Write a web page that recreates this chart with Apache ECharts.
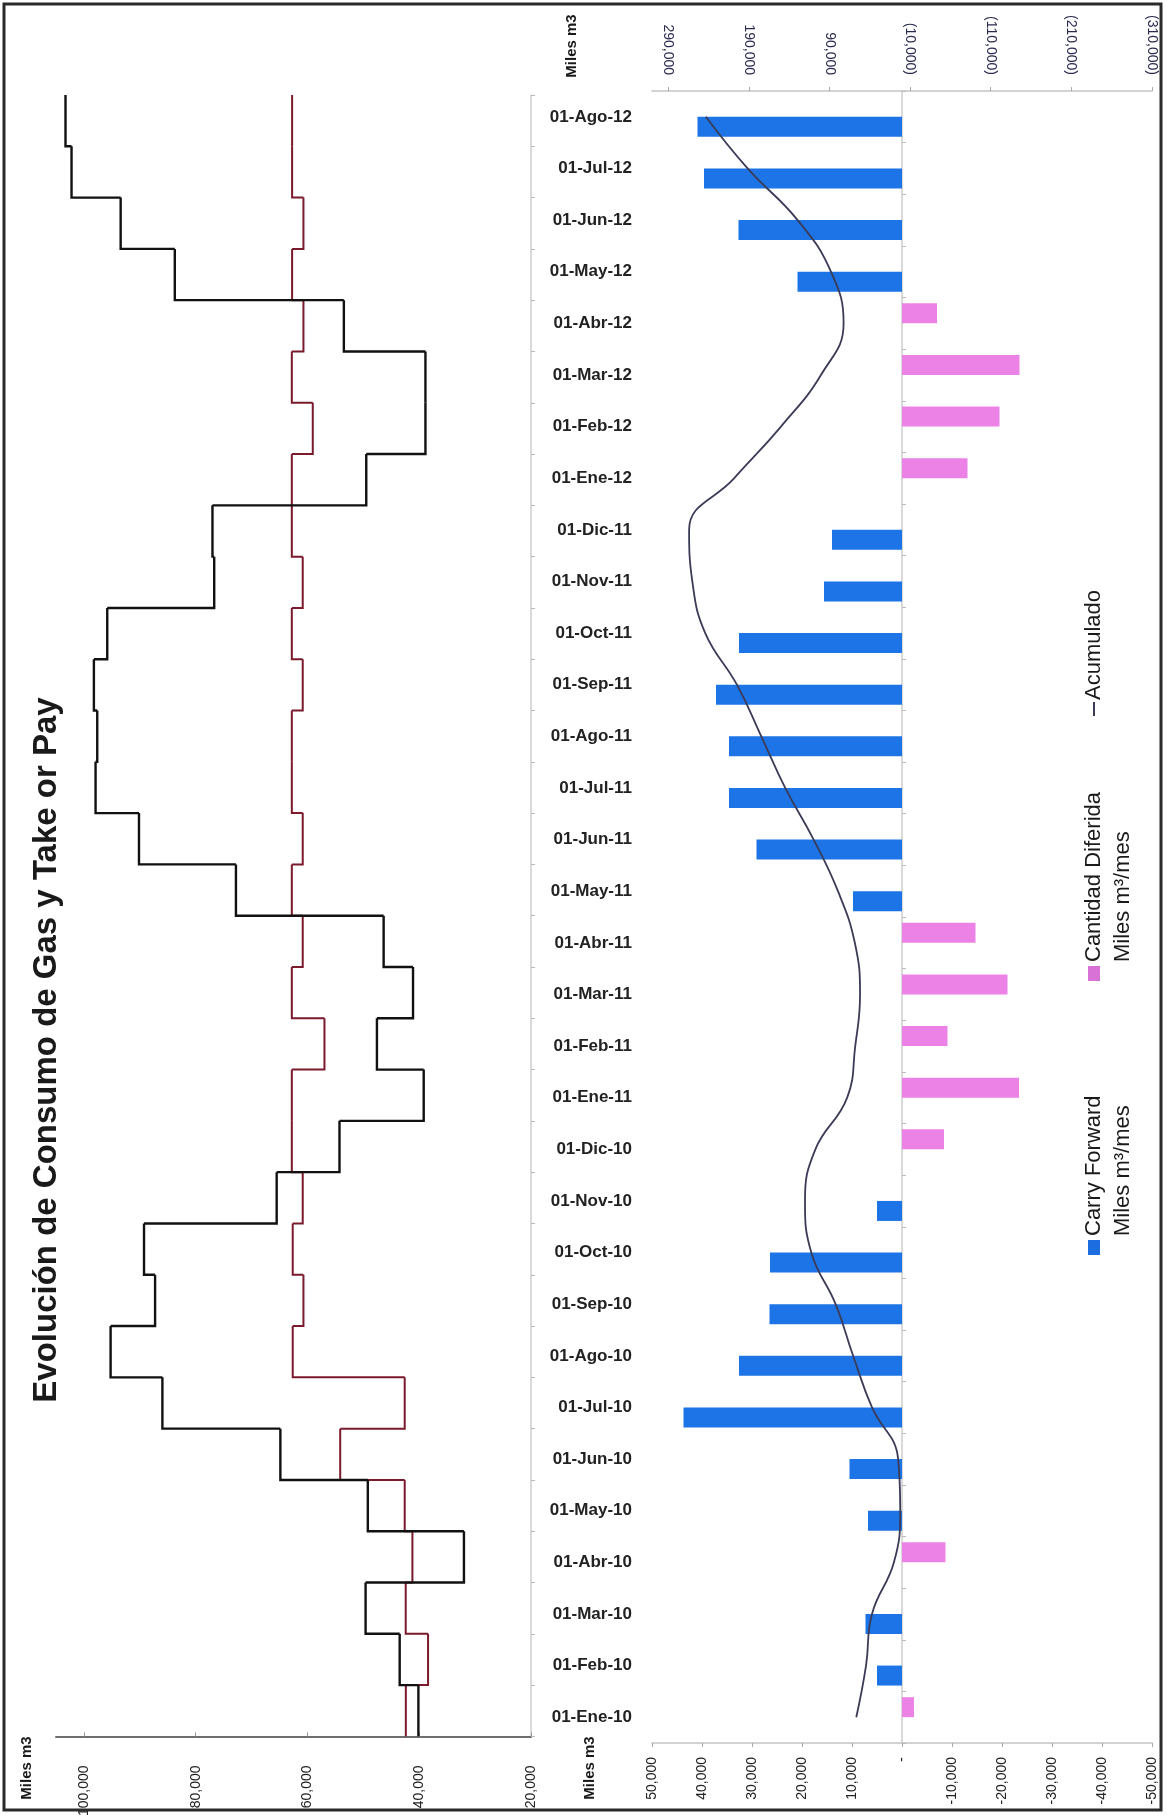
<!DOCTYPE html>
<html>
<head>
<meta charset="utf-8">
<title>Evolución de Consumo de Gas y Take or Pay</title>
<script src="https://cdn.jsdelivr.net/npm/echarts@6/dist/echarts.min.js"></script>
<style>
  html, body { margin: 0; padding: 0; background: #ffffff; }
  #chart { width: 1167px; height: 1819px; }
</style>
</head>
<body>
<div id="chart"></div>
<script>
// Months, oldest first (drawn bottom to top)
const months = ['01-Ene-10','01-Feb-10','01-Mar-10','01-Abr-10','01-May-10','01-Jun-10','01-Jul-10','01-Ago-10',
  '01-Sep-10','01-Oct-10','01-Nov-10','01-Dic-10','01-Ene-11','01-Feb-11','01-Mar-11','01-Abr-11','01-May-11',
  '01-Jun-11','01-Jul-11','01-Ago-11','01-Sep-11','01-Oct-11','01-Nov-11','01-Dic-11','01-Ene-12','01-Feb-12',
  '01-Mar-12','01-Abr-12','01-May-12','01-Jun-12','01-Jul-12','01-Ago-12'];

// Monthly gas consumption (Miles m3) - black step line
const consumo = [40150,43500,49600,32000,49200,64850,85960,95230,87270,89250,65510,54270,39200,47570,41110,46370,
  72800,90150,97920,97620,98220,95830,76690,77000,49480,38890,38890,53490,83740,93430,102220,103300];

// Monthly take-or-pay contracted quantity (Miles m3) - dark red step line
const contrato = [42400,38420,42420,41220,42600,54140,42600,62640,60720,62640,60850,62800,62800,56960,62800,60850,
  62800,60850,62800,62800,60850,62800,60850,62800,62800,59050,62800,60720,62750,60720,62750,62750];

// Carry Forward (Miles m3/mes)
const carryForward = [null,5000,7300,null,6800,10500,43700,32600,26500,26400,5000,null,null,null,null,null,
  9800,29100,34600,34600,37200,32600,15600,14000,null,null,null,null,20900,32700,39600,40900];

// Cantidad Diferida (Miles m3/mes)
const diferida = [-2400,null,null,-8700,null,null,null,null,null,null,null,-8400,-23400,-9100,-21100,-14700,
  null,null,null,null,null,null,null,null,-13100,-19500,-23500,-7000,null,null,null,null];

// Acumulado (Miles m3)
const acumulado = [56700,44600,37200,10000,2200,4800,37200,60600,82300,112500,120300,107400,68000,58000,52000,58500,
  79400,109600,144800,174500,204700,244000,260000,264000,208000,150100,100500,72400,88100,129500,191500,243200];

// Tick values
const consumoTicks = [20000, 40000, 60000, 80000, 100000];
const acumuladoTicks = [290000, 190000, 90000, -10000, -110000, -210000, -310000];

const NARROW = "'Liberation Sans Narrow','Arial Narrow','Liberation Sans',Arial,sans-serif";
const WIDE = "'Liberation Sans',Arial,sans-serif";

const fmt = v => Math.abs(v).toLocaleString('en-US');

// Step line: each month is a vertical segment across its whole band,
// joined to the previous month at the band's lower edge.
function stepItem(color, width) {
  return function (params, api) {
    const cat = api.value(0);
    const cur = api.coord([api.value(1), cat]);
    const band = api.size([0, 1])[1];
    const top = cur[1] - band / 2, bottom = cur[1] + band / 2;
    const pts = [[cur[0], top], [cur[0], bottom]];
    const prev = api.value(2);
    if (!isNaN(prev)) {
      const p = api.coord([prev, cat]);
      pts.push([p[0], bottom]);
    }
    return {
      type: 'polyline',
      shape: { points: pts },
      style: { stroke: color, lineWidth: width, fill: null, lineJoin: 'miter' }
    };
  };
}
const stepData = arr => arr.map((v, i) => [i, v, i > 0 ? arr[i - 1] : NaN]);

function vText(x, y, text, size, weight, align, family) {
  return {
    type: 'text', x: x, y: y, rotation: Math.PI / 2,
    style: {
      text: text, fontSize: size, fontWeight: weight || 'normal', fontFamily: family || NARROW,
      fill: '#1a1a1a', align: align || 'center', verticalAlign: 'middle'
    }
  };
}

const chart = echarts.init(document.getElementById('chart'), null, { renderer: 'canvas' });

chart.setOption({
  animation: false,
  backgroundColor: '#ffffff',
  textStyle: { fontFamily: NARROW },
  grid: [
    { left: 56, right: 636, top: 95, bottom: 76 },
    { left: 652, right: 15, top: 91, bottom: 76 }
  ],
  xAxis: [
    { // consumption scale (left panel)
      gridIndex: 0, type: 'value', inverse: true, min: 20000, max: 105000, position: 'bottom',
      axisLine: { show: true, lineStyle: { color: '#6e6e6e', width: 2 } },
      axisTick: { show: true, inside: true, length: 4, customValues: consumoTicks, lineStyle: { color: '#999' } },
      splitLine: { show: false },
      axisLabel: {
        rotate: 90, margin: 29, fontSize: 14, color: '#222', fontFamily: NARROW,
        customValues: consumoTicks, formatter: v => fmt(v)
      }
    },
    { // monthly bars scale
      gridIndex: 1, type: 'value', inverse: true, min: -50000, max: 50000, interval: 10000, position: 'bottom',
      axisLine: { show: true, onZero: false, lineStyle: { color: '#c4c4c4', width: 1.5 } },
      axisTick: { show: true, length: 4, lineStyle: { color: '#aaa' } },
      splitLine: { show: false },
      axisLabel: {
        rotate: 90, margin: 14, fontSize: 14, color: '#222', fontFamily: NARROW,
        formatter: v => v === 0 ? '-' : (v < 0 ? '-' : '') + fmt(v)
      }
    },
    { // accumulated scale
      gridIndex: 1, type: 'value', inverse: true, min: -310000, max: 310000, position: 'top',
      axisLine: { show: true, onZero: false, lineStyle: { color: '#c4c4c4', width: 1.5 } },
      axisTick: { show: true, length: 4, customValues: acumuladoTicks, lineStyle: { color: '#aaa' } },
      splitLine: { show: false },
      axisLabel: {
        rotate: 90, margin: 16, fontSize: 14, color: '#2a2a50', fontFamily: NARROW,
        customValues: acumuladoTicks, formatter: v => v < 0 ? '(' + fmt(v) + ')' : fmt(v)
      }
    }
  ],
  yAxis: [
    {
      gridIndex: 0, type: 'category', data: months, position: 'right',
      axisLine: { show: true, onZero: false, lineStyle: { color: '#cfcfcf', width: 1.5 } },
      axisTick: { show: true, length: 4, lineStyle: { color: '#bbb' } },
      axisLabel: { show: false }
    },
    {
      gridIndex: 1, type: 'category', data: months, position: 'left',
      axisLine: { show: false, onZero: false },
      axisTick: { show: false },
      axisLabel: { margin: 20, fontSize: 17, fontWeight: 'bold', color: '#222', fontFamily: WIDE }
    },
    { // zero line of the monthly bars
      gridIndex: 1, type: 'category', data: months,
      axisLine: { show: true, onZero: true, lineStyle: { color: '#cccccc', width: 1.5 } },
      axisTick: { show: true, length: 4, lineStyle: { color: '#bbb' } },
      axisLabel: { show: false }
    }
  ],
  series: [
    {
      name: 'Contrato', type: 'custom', xAxisIndex: 0, yAxisIndex: 0,
      renderItem: stepItem('#7a1a2c', 2), encode: { x: 1, y: 0 },
      data: stepData(contrato), z: 2
    },
    {
      name: 'Consumo', type: 'custom', xAxisIndex: 0, yAxisIndex: 0,
      renderItem: stepItem('#111111', 2.4), encode: { x: 1, y: 0 },
      data: stepData(consumo), z: 3
    },
    {
      name: 'Cantidad Diferida', type: 'bar', xAxisIndex: 1, yAxisIndex: 1,
      data: diferida, barWidth: 20, barGap: '0%',
      itemStyle: { color: '#ec82e6' }, z: 2
    },
    {
      name: 'Carry Forward', type: 'bar', xAxisIndex: 1, yAxisIndex: 1,
      data: carryForward, barWidth: 20, barGap: '0%',
      itemStyle: { color: '#1c74e6' }, z: 2
    },
    {
      name: 'Acumulado', type: 'line', xAxisIndex: 2, yAxisIndex: 1,
      data: acumulado, smooth: 0.45, symbol: 'none',
      lineStyle: { color: '#3b3b58', width: 1.8 }, z: 5
    }
  ],
  graphic: [
    // page frame
    { type: 'rect', shape: { x: 4, y: 4, width: 1157, height: 1806 },
      style: { fill: null, stroke: '#2a2a2a', lineWidth: 3 }, z: 10 },
    // title
    vText(47, 1050, 'Evolución de Consumo de Gas y Take or Pay', 33, 'bold'),
    // unit captions
    vText(572, 46, 'Miles m3', 15, 'bold'),
    vText(27, 1768, 'Miles m3', 15, 'bold'),
    vText(590, 1768, 'Miles m3', 15, 'bold'),
    // legend: Acumulado
    { type: 'line', shape: { x1: 1094, y1: 716, x2: 1094, y2: 702 }, style: { stroke: '#3b3b58', lineWidth: 2 } },
    vText(1094, 700, 'Acumulado', 22, 'normal', 'left'),
    // legend: Cantidad Diferida
    { type: 'rect', shape: { x: 1088, y: 966, width: 12, height: 15 }, style: { fill: '#d872d6' } },
    vText(1094, 962, 'Cantidad Diferida', 22, 'normal', 'left'),
    vText(1123, 962, 'Miles m³/mes', 22, 'normal', 'left'),
    // legend: Carry Forward
    { type: 'rect', shape: { x: 1088, y: 1240, width: 12, height: 15 }, style: { fill: '#1c6ee0' } },
    vText(1094, 1236, 'Carry Forward', 22, 'normal', 'left'),
    vText(1123, 1236, 'Miles m³/mes', 22, 'normal', 'left')
  ]
});
</script>
</body>
</html>
